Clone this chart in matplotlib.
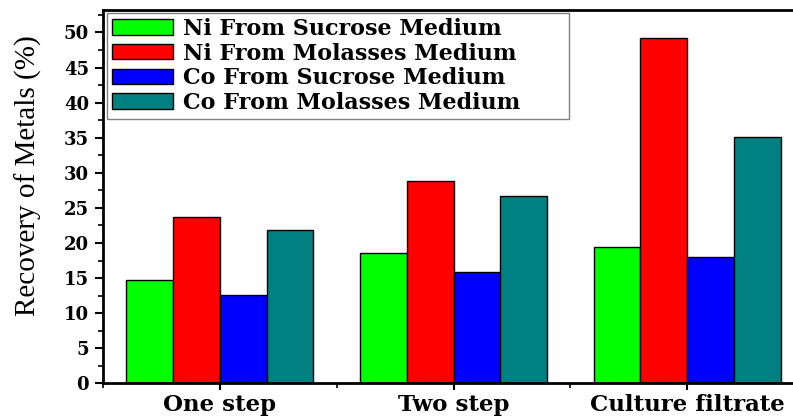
import numpy as np
import matplotlib
matplotlib.use("Agg")
import matplotlib.pyplot as plt
from matplotlib.ticker import MultipleLocator

# data
categories = ["One step", "Two step", "Culture filtrate"]
series_names = ["Ni From Sucrose Medium", "Ni From Molasses Medium",
                "Co From Sucrose Medium", "Co From Molasses Medium"]
ni_sucrose = [14.7, 18.5, 19.4]
ni_molasses = [23.7, 28.9, 49.2]
co_sucrose = [12.6, 15.9, 18.0]
co_molasses = [21.85, 26.7, 35.1]
colors = ["#00ff00", "#ff0000", "#0000ff", "#008080"]

wide = ["DejaVu Serif"]

fig = plt.figure(figsize=(7.93, 4.16), dpi=100)
ax = fig.add_axes([103 / 793, 1 - 383.3 / 416, 701 / 793, 373.3 / 416])

x = np.arange(1, len(categories) + 1)
w = 0.2
all_series = [ni_sucrose, ni_molasses, co_sucrose, co_molasses]
for i, vals in enumerate(all_series):
    ax.bar(x + (i - 1.5) * w, vals, w, color=colors[i], edgecolor="black",
           linewidth=1.0, label=series_names[i])

ax.set_xlim(0.5, 3.5)
ax.set_ylim(0, 53.2)
ax.set_xticks(x)
ax.set_xticklabels(categories, fontsize=16.5, fontweight="bold", family=wide)
ax.xaxis.set_minor_locator(MultipleLocator(0.5))
ax.yaxis.set_major_locator(MultipleLocator(5))
ax.yaxis.set_minor_locator(MultipleLocator(2.5))
ax.tick_params(axis="y", width=1.5, length=6, direction="out", pad=4)
ax.tick_params(axis="y", which="minor", width=1.2, length=3.5)
ax.tick_params(axis="x", width=1.5, length=5, direction="out", pad=3)
ax.tick_params(axis="x", which="minor", width=1.2, length=3.5)
for lab in ax.get_yticklabels():
    lab.set_fontweight("bold")
    lab.set_family(wide)
    lab.set_fontsize(13)
for s in ax.spines.values():
    s.set_linewidth(2)

ax.set_ylabel("Recovery of Metals (%)", fontsize=21,
              family=["Liberation Serif"])
ax.yaxis.set_label_coords(-0.087, 0.555)

leg = ax.legend(loc="upper left", bbox_to_anchor=(0.006, 0.992, 0.659, 0.0),
                mode="expand",
                prop={"weight": "bold", "size": 16, "family": wide},
                fancybox=False, edgecolor="gray", framealpha=1,
                handlelength=2.75, handleheight=0.68, handletextpad=0.45,
                labelspacing=0.12, borderpad=0.22, borderaxespad=0.0)
leg.get_frame().set_linewidth(1.0)

fig.savefig("out.png", dpi=100)
